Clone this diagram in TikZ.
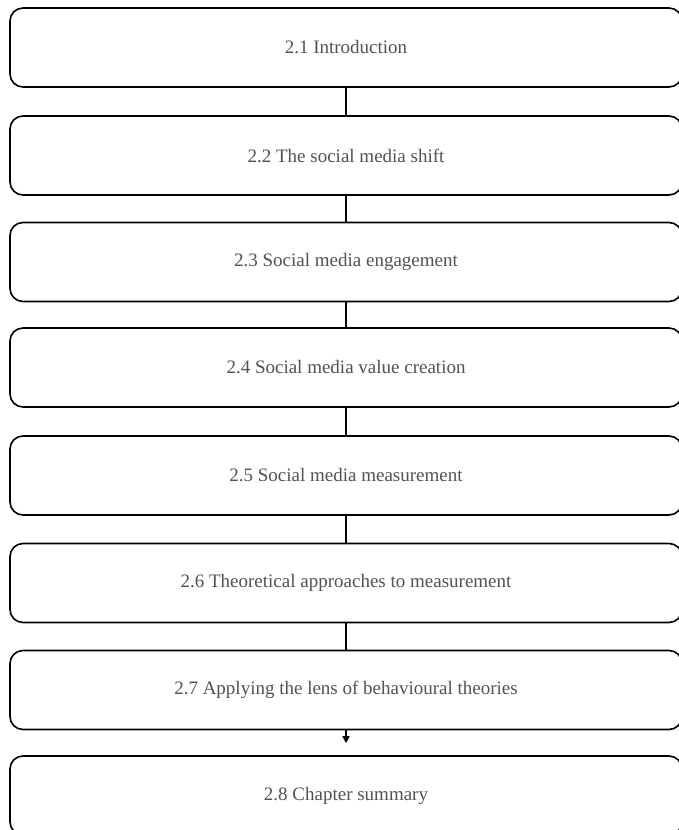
\documentclass[tikz,border=0pt]{standalone}
\usepackage{fontspec}
\setmainfont{Liberation Serif}
\usetikzlibrary{arrows.meta}
\begin{document}
\begin{tikzpicture}[x=1pt,y=-1pt,
  section/.style={draw=black, line width=1.6pt, rounded corners=13pt,
    minimum width=672pt, minimum height=79pt, inner sep=0pt,
    text=black!68, font=\fontsize{19}{23}\selectfont},
  link/.style={draw=black, line width=1.6pt}]
\useasboundingbox (0,0) rectangle (679,830);
\clip (0,0) rectangle (679,830);
\node[section] (s1) at (346,47.5)  {2.1 Introduction};
\node[section] (s2) at (346,155.5) {2.2 The social media shift};
\node[section] (s3) at (346,262)   {2.3 Social media engagement};
\node[section] (s4) at (346,367.5) {2.4 Social media value creation};
\node[section] (s5) at (346,475.5) {2.5 Social media measurement};
\node[section] (s6) at (346,583)   {2.6 Theoretical approaches to measurement};
\node[section] (s7) at (346,690)   {2.7 Applying the lens of behavioural theories};
\node[section] (s8) at (346,795.5) {2.8 Chapter summary};
\draw[link] (s1.south) -- (s2.north);
\draw[link] (s2.south) -- (s3.north);
\draw[link] (s3.south) -- (s4.north);
\draw[link] (s4.south) -- (s5.north);
\draw[link] (s5.south) -- (s6.north);
\draw[link] (s6.south) -- (s7.north);
\draw[link, -{Triangle[length=7pt,width=7pt]}, shorten >=12pt] (s7.south) -- (s8.north);
\end{tikzpicture}
\end{document}
